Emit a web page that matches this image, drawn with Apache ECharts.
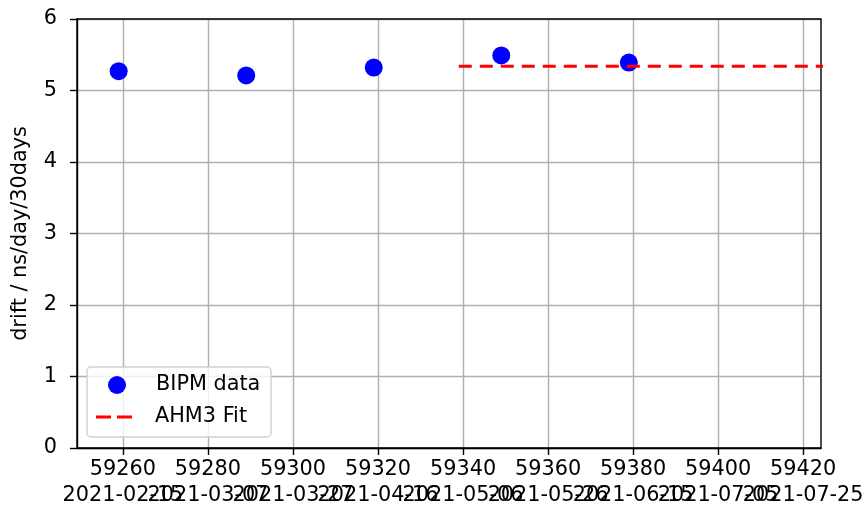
<!DOCTYPE html>
<html>
<head>
<meta charset="utf-8">
<script src="https://cdn.jsdelivr.net/npm/echarts@6/dist/echarts.min.js"></script>
<style>
  html, body { margin: 0; padding: 0; background: #fff; }
  #chart { width: 868px; height: 515px; }
</style>
</head>
<body>
<div id="chart"></div>
<script>
// BIPM drift points (MJD, ns/day/30days)
const bipmMjd = [59259, 59289, 59319, 59349, 59379];
const bipmDrift = [5.27, 5.21, 5.32, 5.49, 5.39];

// AHM3 fit (constant level)
const fitMjd = [59339, 59430];
const fitDrift = [5.34, 5.34];

// x tick labels
const mjdTicks = [59260, 59280, 59300, 59320, 59340, 59360, 59380, 59400, 59420];
const dateLabels = ['2021-02-15', '2021-03-07', '2021-03-27', '2021-04-16', '2021-05-06',
  '2021-05-26', '2021-06-15', '2021-07-05', '2021-07-25'];

const FONT = 'DejaVu Sans, sans-serif';
const FS = 20.8;
const GRID_COLOR = '#b0b0b0';
const X_MIN = 59249.2;
const X_MAX = 59424.2;

// the date labels overlap each other, so they go on two extra axes
// (even / odd ticks) to stop echarts from hiding any of them
const dateAxis = (parity) => {
  const ticks = mjdTicks.filter((_, i) => i % 2 === parity);
  return {
    type: 'value',
    gridIndex: 0,
    position: 'bottom',
    min: X_MIN,
    max: X_MAX,
    axisLine: { show: false, onZero: false },
    axisTick: { show: false },
    splitLine: { show: false },
    axisLabel: {
      customValues: ticks,
      showMinLabel: true,
      showMaxLabel: true,
      fontFamily: FONT,
      fontSize: FS,
      color: '#000',
      margin: 35,
      lineHeight: 26,
      formatter: (v) => dateLabels[mjdTicks.indexOf(Math.round(v))] || '',
    },
  };
};

const chart = echarts.init(document.getElementById('chart'), null, { renderer: 'canvas' });

chart.setOption({
  animation: false,
  grid: {
    left: 77,
    right: 47,
    top: 19,
    bottom: 67,
    show: true,
    borderColor: '#000',
    borderWidth: 1.4,
    z: 3,
  },
  // legend frame
  graphic: [
    {
      type: 'rect',
      z: 50,
      shape: { x: 87, y: 367, width: 184, height: 70, r: 4 },
      style: { fill: 'rgba(255,255,255,0.8)', stroke: '#d0d0d0', lineWidth: 1.4 },
    },
  ],
  legend: [
    {
      left: 108,
      top: 373,
      padding: 0,
      itemWidth: 36,
      itemHeight: 18,
      z: 60,
      textStyle: { fontFamily: FONT, fontSize: FS, color: '#000', lineHeight: 24, padding: [0, 0, 0, 16] },
      data: [{ name: 'BIPM data', icon: 'circle', itemStyle: { color: '#0000ff' } }],
    },
    {
      left: 96,
      top: 405,
      padding: 0,
      itemWidth: 36,
      itemHeight: 3,
      z: 60,
      textStyle: { fontFamily: FONT, fontSize: FS, color: '#000', lineHeight: 24, padding: [0, 0, 0, 18] },
      data: [{
        name: 'AHM3 Fit',
        icon: 'path://M0,0h15v3h-15z M21,0h15v3h-15z',
        itemStyle: { color: '#ff0000' },
      }],
    },
  ],
  xAxis: [
    {
      type: 'value',
      min: X_MIN,
      max: X_MAX,
      axisLine: { show: true, onZero: false, lineStyle: { color: '#000', width: 1.4 } },
      axisTick: {
        show: true,
        length: 7,
        customValues: mjdTicks,
        lineStyle: { color: '#000', width: 1.4 },
      },
      axisLabel: {
        customValues: mjdTicks,
        showMinLabel: true,
        showMaxLabel: true,
        fontFamily: FONT,
        fontSize: FS,
        color: '#000',
        margin: 9,
        lineHeight: 26,
        formatter: (v) => String(Math.round(v)),
      },
      splitLine: { show: true, lineStyle: { color: GRID_COLOR, width: 1.4 } },
    },
    dateAxis(0),
    dateAxis(1),
  ],
  yAxis: {
    type: 'value',
    min: 0,
    max: 6,
    interval: 1,
    name: 'drift / ns/day/30days',
    nameLocation: 'middle',
    nameGap: 46,
    nameTextStyle: { fontFamily: FONT, fontSize: FS, color: '#000' },
    axisLine: { show: true, lineStyle: { color: '#000', width: 1.4 } },
    axisTick: { show: true, length: 7, lineStyle: { color: '#000', width: 1.4 } },
    axisLabel: { fontFamily: FONT, fontSize: FS, color: '#000', margin: 20 },
    splitLine: { show: true, lineStyle: { color: GRID_COLOR, width: 1.4 } },
  },
  series: [
    {
      name: 'BIPM data',
      type: 'scatter',
      symbol: 'circle',
      symbolSize: 18,
      itemStyle: { color: '#0000ff', opacity: 1 },
      data: bipmMjd.map((x, i) => [x, bipmDrift[i]]),
      z: 2,
    },
    {
      name: 'AHM3 Fit',
      type: 'line',
      showSymbol: false,
      symbol: 'none',
      clip: true,
      lineStyle: { color: '#ff0000', width: 3, type: [13, 8] },
      itemStyle: { color: '#ff0000' },
      data: fitMjd.map((x, i) => [x, fitDrift[i]]),
      z: 3,
    },
  ],
});
</script>
</body>
</html>
